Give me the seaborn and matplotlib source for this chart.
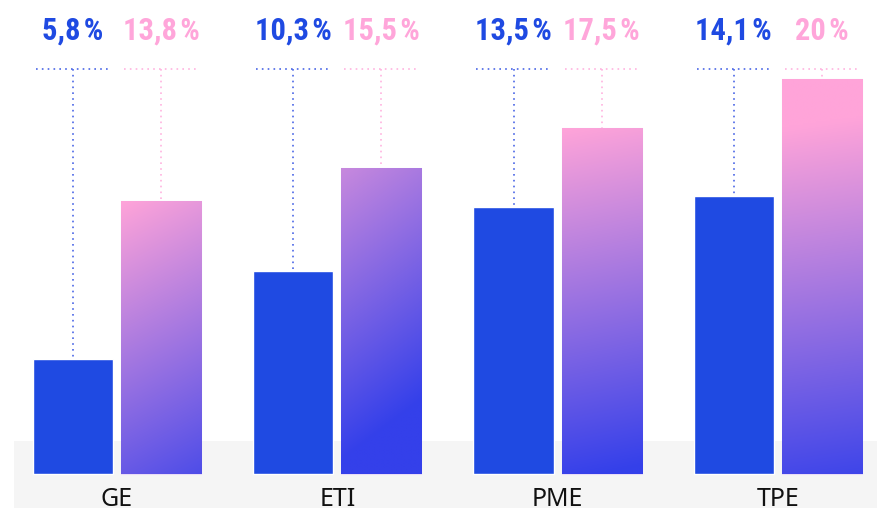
import numpy as np
import pandas as pd
import seaborn as sns
import matplotlib.pyplot as plt
from matplotlib.colors import to_rgb

# data
categories = ["GE", "ETI", "PME", "TPE"]
series = ["avant", "après"]
values_blue = [5.8, 10.3, 13.5, 14.1]
values_pink = [13.8, 15.5, 17.5, 20.0]
labels_blue = ["5,8\u200a%", "10,3\u200a%", "13,5\u200a%", "14,1\u200a%"]
labels_pink = ["13,8\u200a%", "15,5\u200a%", "17,5\u200a%", "20\u200a%"]

BLUE = "#1f4ae2"
PINK = "#ffa6da"
GRAD_TOP = to_rgb("#ffa4d9")
GRAD_BOT = to_rgb("#3440ea")
# gradient direction (dx, dy) in pixels and start / end of the ramp per bar
grad_style = [((0.55, 1.0), 0.0, 1.15),
              ((0.75, 1.0), -0.3, 0.8),
              ((0.2, 1.0), 0.0, 0.98),
              ((0.15, 1.0), 0.12, 1.05)]

df = pd.DataFrame({
    "cat": categories * 2,
    "serie": [series[0]] * 4 + [series[1]] * 4,
    "val": values_blue + values_pink,
})

sns.set_style("white")
fig = plt.figure(figsize=(8.77, 5.08), dpi=100)
ax = fig.add_axes([0, 0, 1, 1])

px = 220.3   # pixels per category
py = 19.75   # pixels per unit

sns.barplot(data=df, x="cat", y="val", hue="serie", order=categories,
            hue_order=series, palette=[BLUE, PINK], width=0.8, gap=0.09,
            legend=False, ax=ax, zorder=2, saturation=1)

# grey band at the bottom
ax.axhspan(-(508 - 474) / py, (474 - 441) / py, xmin=14 / 877, xmax=1,
           color="#f5f5f5", zorder=0, lw=0)

blue_bars = ax.containers[0]
pink_bars = ax.containers[1]

# gradient fill on the second series
for bar, (d, a, b) in zip(pink_bars, grad_style):
    x0, y0 = bar.get_x(), bar.get_y()
    w, h = bar.get_width(), bar.get_height()
    W, H = w * px, h * py
    nx, ny = 60, 200
    u = np.linspace(0, 1, nx)[None, :]
    v = np.linspace(0, 1, ny)[:, None]  # 0 = top
    s = u * W * d[0] + v * H * d[1]
    s = (s - s.min()) / (s.max() - s.min())
    t = np.clip((s - a) / (b - a), 0, 1)[..., None]
    img = np.array(GRAD_TOP) * (1 - t) + np.array(GRAD_BOT) * t
    im = ax.imshow(img, extent=[x0, x0 + w, y0, y0 + h], origin="upper",
                   aspect="auto", zorder=3, interpolation="bilinear")
    im.set_clip_path(bar)
    bar.set_edgecolor("#e9dcf7")
    bar.set_linewidth(0.8)

# limits set last (barplot and imshow both change them)
ax.set_xlim(-117 / px, (877 - 117) / px)
ax.set_ylim(-(508 - 474) / py, 474 / py)

# dotted leaders and value labels
line_y = (474 - 69) / py
text_y = (474 - 31) / py
num_font = ["Roboto Condensed", "Liberation Sans Narrow", "DejaVu Sans"]
for bars, labs, col, lcol in [(blue_bars, labels_blue, BLUE, "#4a66e6"),
                              (pink_bars, labels_pink, PINK, "#ffb3df")]:
    for bar, lab in zip(bars, labs):
        cx = bar.get_x() + bar.get_width() / 2
        hw = bar.get_width() / 2 - 3 / px
        ax.plot([cx - hw, cx + hw], [line_y, line_y], color=lcol, lw=1.2,
                ls=(0, (1, 2.5)), zorder=4)
        ax.plot([cx, cx], [line_y, bar.get_height()], color=lcol, lw=1.2,
                ls=(0, (1, 2.5)), zorder=1)
        ax.text(cx, text_y, lab, ha="center", va="center", color=col,
                fontsize=22, fontweight="bold", family=num_font)

for i, c in enumerate(categories):
    ax.text(i, -(506 - 474) / py, c, ha="center", va="baseline",
            fontsize=18, color="#111111", family=["Noto Sans", "DejaVu Sans"])

ax.set_axis_off()
fig.savefig("out.png", dpi=100)
